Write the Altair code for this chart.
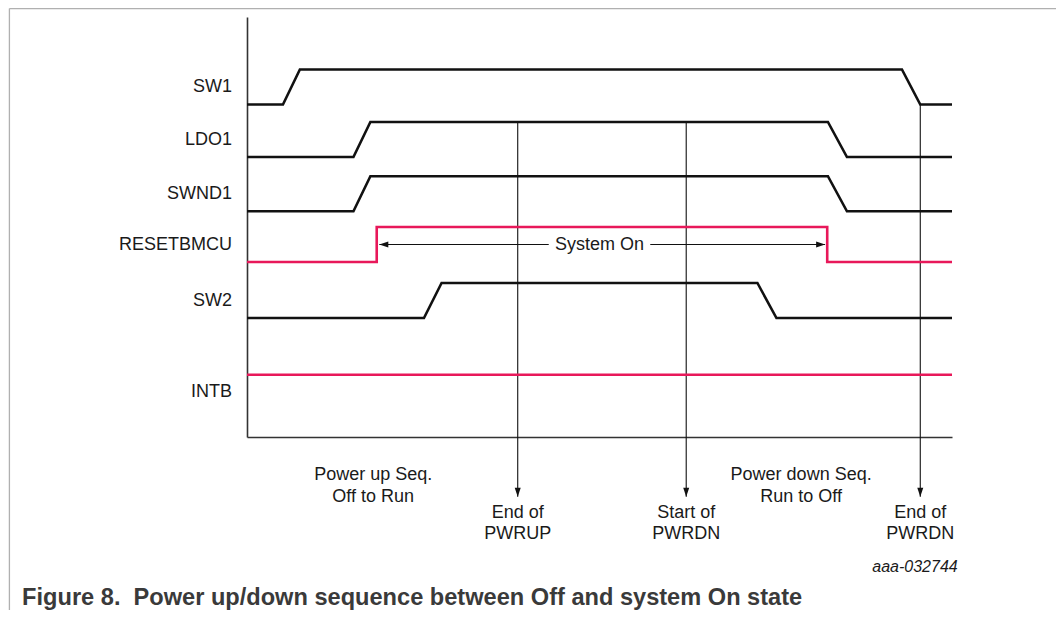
import altair as alt
import pandas as pd

FONT = "Liberation Sans"

# ---------------- data (time in arbitrary units 0..100, level 0 = low, 1 = high)
signal_names = ["SW1", "LDO1", "SWND1", "RESETBMCU", "SW2", "INTB"]
lane_base = [9.5, 8.0, 6.45, 5.0, 3.4, 0.78]
signal_kind = ["rail", "rail", "rail", "logic", "rail", "logic"]

sw1_time = [0, 5.1, 7.5, 92.9, 95.5, 100]
sw1_level = [0, 0, 1, 1, 0, 0]
ldo1_time = [0, 15.1, 17.5, 82.4, 85.1, 100]
ldo1_level = [0, 0, 1, 1, 0, 0]
swnd1_time = [0, 15.1, 17.5, 82.4, 85.1, 100]
swnd1_level = [0, 0, 1, 1, 0, 0]
resetbmcu_time = [0, 18.4, 18.4, 82.3, 82.3, 100]
resetbmcu_level = [0, 0, 1, 1, 0, 0]
sw2_time = [0, 25.1, 27.6, 72.4, 75.1, 100]
sw2_level = [0, 0, 1, 1, 0, 0]
intb_time = [0, 100]
intb_level = [1, 1]

# event markers
event_time = [38.4, 62.3, 95.5]
event_from_signal = ["LDO1", "LDO1", "SW1"]
event_from_level = [1, 1, 0]
event_line1 = ["End of", "Start of", "End of"]
event_line2 = ["PWRUP", "PWRDN", "PWRDN"]

# phase annotations
phase_time = [17.9, 78.6]
phase_line1 = ["Power up Seq.", "Power down Seq."]
phase_line2 = ["Off to Run", "Run to Off"]

# System On span
system_on_start = 18.77
system_on_end = 82.0
system_on_label_time = 50.0
system_on_text_gap = [42.8, 57.2]

figure_id = "aaa-032744"
figure_id_time = 94.75
caption = "Figure 8.\u00a0 Power up/down sequence between Off and system On state"

# frame of the figure box
frame_left_time = -33.7
frame_top_level = 12.24

# ---------------- layout constants (y units below the baseline)
ARROW_TIP = -1.71
EVT_L1, EVT_L2 = -2.16, -2.76
PH_L1, PH_L2 = -1.09, -1.71
ID_Y = -3.71
CAPTION_Y = -4.79
CAPTION_T = -31.9
LABEL_T = -2.13

BLACK = "#111111"
RED = "#e8185a"

xs = alt.Scale(domain=[0, 100], nice=False, zero=False)
ys = alt.Scale(domain=[0, 12], nice=False, zero=False)
AX = alt.Axis(title=None, labels=False, ticks=False, grid=False,
              domainColor="#333333", domainWidth=1.6)


def X(f):
    return alt.X(f, type="quantitative", scale=xs, axis=AX)


def Y(f):
    return alt.Y(f, type="quantitative", scale=ys, axis=AX)


# waveforms table
times = [sw1_time, ldo1_time, swnd1_time, resetbmcu_time, sw2_time, intb_time]
levels = [sw1_level, ldo1_level, swnd1_level, resetbmcu_level, sw2_level, intb_level]
rows = []
for name, base, kind, ts, ls in zip(signal_names, lane_base, signal_kind, times, levels):
    for i, (t, l) in enumerate(zip(ts, ls)):
        rows.append({"signal": name, "kind": kind, "i": i, "t": t, "y": base + l})
wave = pd.DataFrame(rows)

base_of = dict(zip(signal_names, lane_base))

labels = pd.DataFrame({"signal": signal_names,
                       "t": [LABEL_T] * len(signal_names),
                       "y": [b + 0.5 for b in lane_base]})

events = pd.DataFrame({
    "t": event_time,
    "y0": [base_of[s] + l for s, l in zip(event_from_signal, event_from_level)],
    "y1": [ARROW_TIP] * 3,
})
event_text = pd.DataFrame({
    "t": event_time * 2,
    "y": [EVT_L1] * 3 + [EVT_L2] * 3,
    "txt": event_line1 + event_line2,
})
phase_text = pd.DataFrame({
    "t": phase_time * 2,
    "y": [PH_L1] * 2 + [PH_L2] * 2,
    "txt": phase_line1 + phase_line2,
})

sys_y = base_of["RESETBMCU"] + 0.5
sys_seg = pd.DataFrame({"t": [system_on_start, system_on_text_gap[1]],
                        "t2": [system_on_text_gap[0], system_on_end],
                        "y": [sys_y, sys_y]})
sys_label = pd.DataFrame({"t": [system_on_label_time], "y": [sys_y], "txt": ["System On"]})
sys_left = pd.DataFrame({"t": [system_on_start], "y": [sys_y]})
sys_right = pd.DataFrame({"t": [system_on_end], "y": [sys_y]})

frame_h = pd.DataFrame({"t": [frame_left_time], "t2": [140], "y": [frame_top_level]})
frame_v = pd.DataFrame({"t": [frame_left_time], "y": [frame_top_level], "y2": [-8]})

misc_text = pd.DataFrame({"t": [figure_id_time], "y": [ID_Y], "txt": [figure_id]})
cap_text = pd.DataFrame({"t": [CAPTION_T], "y": [CAPTION_Y], "txt": [caption]})

# ---------------- layers
lines = alt.Chart(wave).mark_line(strokeWidth=2.6, strokeJoin="miter", clip=False).encode(
    x=X("t"), y=Y("y"), detail="signal:N", order="i:Q",
    color=alt.Color("kind:N", scale=alt.Scale(domain=["rail", "logic"], range=[BLACK, RED]), legend=None),
)

frame1 = alt.Chart(frame_h).mark_rule(color="#b0b0b0", strokeWidth=1.3).encode(
    x=X("t"), x2="t2", y=Y("y"))
frame2 = alt.Chart(frame_v).mark_rule(color="#b0b0b0", strokeWidth=1.3).encode(
    x=X("t"), y=Y("y"), y2="y2")

sig_labels = alt.Chart(labels).mark_text(align="right", baseline="middle", font=FONT,
                                         fontSize=18, color="#1a1a1a").encode(
    x=X("t"), y=Y("y"), text="signal:N")

ev_rules = alt.Chart(events).mark_rule(color=BLACK, strokeWidth=1.1).encode(
    x=X("t"), y=Y("y0"), y2="y1")
ev_heads = alt.Chart(events).mark_point(shape="M-1.5,-4.5L1.5,-4.5L0,0Z", size=16, filled=True,
                                        opacity=1, color=BLACK, strokeWidth=0).encode(
    x=X("t"), y=Y("y1"))
ev_text = alt.Chart(event_text).mark_text(align="center", baseline="middle", font=FONT,
                                          fontSize=18, color="#1a1a1a").encode(
    x=X("t"), y=Y("y"), text="txt:N")
ph_text = alt.Chart(phase_text).mark_text(align="center", baseline="middle", font=FONT,
                                          fontSize=18, color="#1a1a1a").encode(
    x=X("t"), y=Y("y"), text="txt:N")

sys_rules = alt.Chart(sys_seg).mark_rule(color=BLACK, strokeWidth=1.1).encode(
    x=X("t"), x2="t2", y=Y("y"))
sys_lh = alt.Chart(sys_left).mark_point(shape="M0,0L4.5,-1.5L4.5,1.5Z", size=16, filled=True,
                                        opacity=1, color=BLACK, strokeWidth=0).encode(
    x=X("t"), y=Y("y"))
sys_rh = alt.Chart(sys_right).mark_point(shape="M0,0L-4.5,-1.5L-4.5,1.5Z", size=16, filled=True,
                                         opacity=1, color=BLACK, strokeWidth=0).encode(
    x=X("t"), y=Y("y"))
sys_txt = alt.Chart(sys_label).mark_text(align="center", baseline="middle", font=FONT,
                                         fontSize=18, color="#1a1a1a").encode(
    x=X("t"), y=Y("y"), text="txt:N")

id_txt = alt.Chart(misc_text).mark_text(align="center", baseline="middle", font=FONT,
                                        fontSize=16, fontStyle="italic", color="#1a1a1a").encode(
    x=X("t"), y=Y("y"), text="txt:N")
cap = alt.Chart(cap_text).mark_text(align="left", baseline="alphabetic", font=FONT,
                                    fontSize=23.6, fontWeight="bold", color="#3a3a3a").encode(
    x=X("t"), y=Y("y"), text="txt:N")

chart = alt.layer(
    frame1, frame2, ev_rules, ev_heads, sys_rules, sys_lh, sys_rh, lines,
    sig_labels, ev_text, ph_text, sys_txt, id_txt, cap,
).properties(
    width=705, height=420,
    autosize=alt.AutoSizeParams(type="none"),
    padding={"left": 239, "top": 9, "right": 104, "bottom": 173},
    background="white",
).configure_view(stroke=None)

chart.save("out.html", embed_options={"renderer": "svg", "actions": False})
